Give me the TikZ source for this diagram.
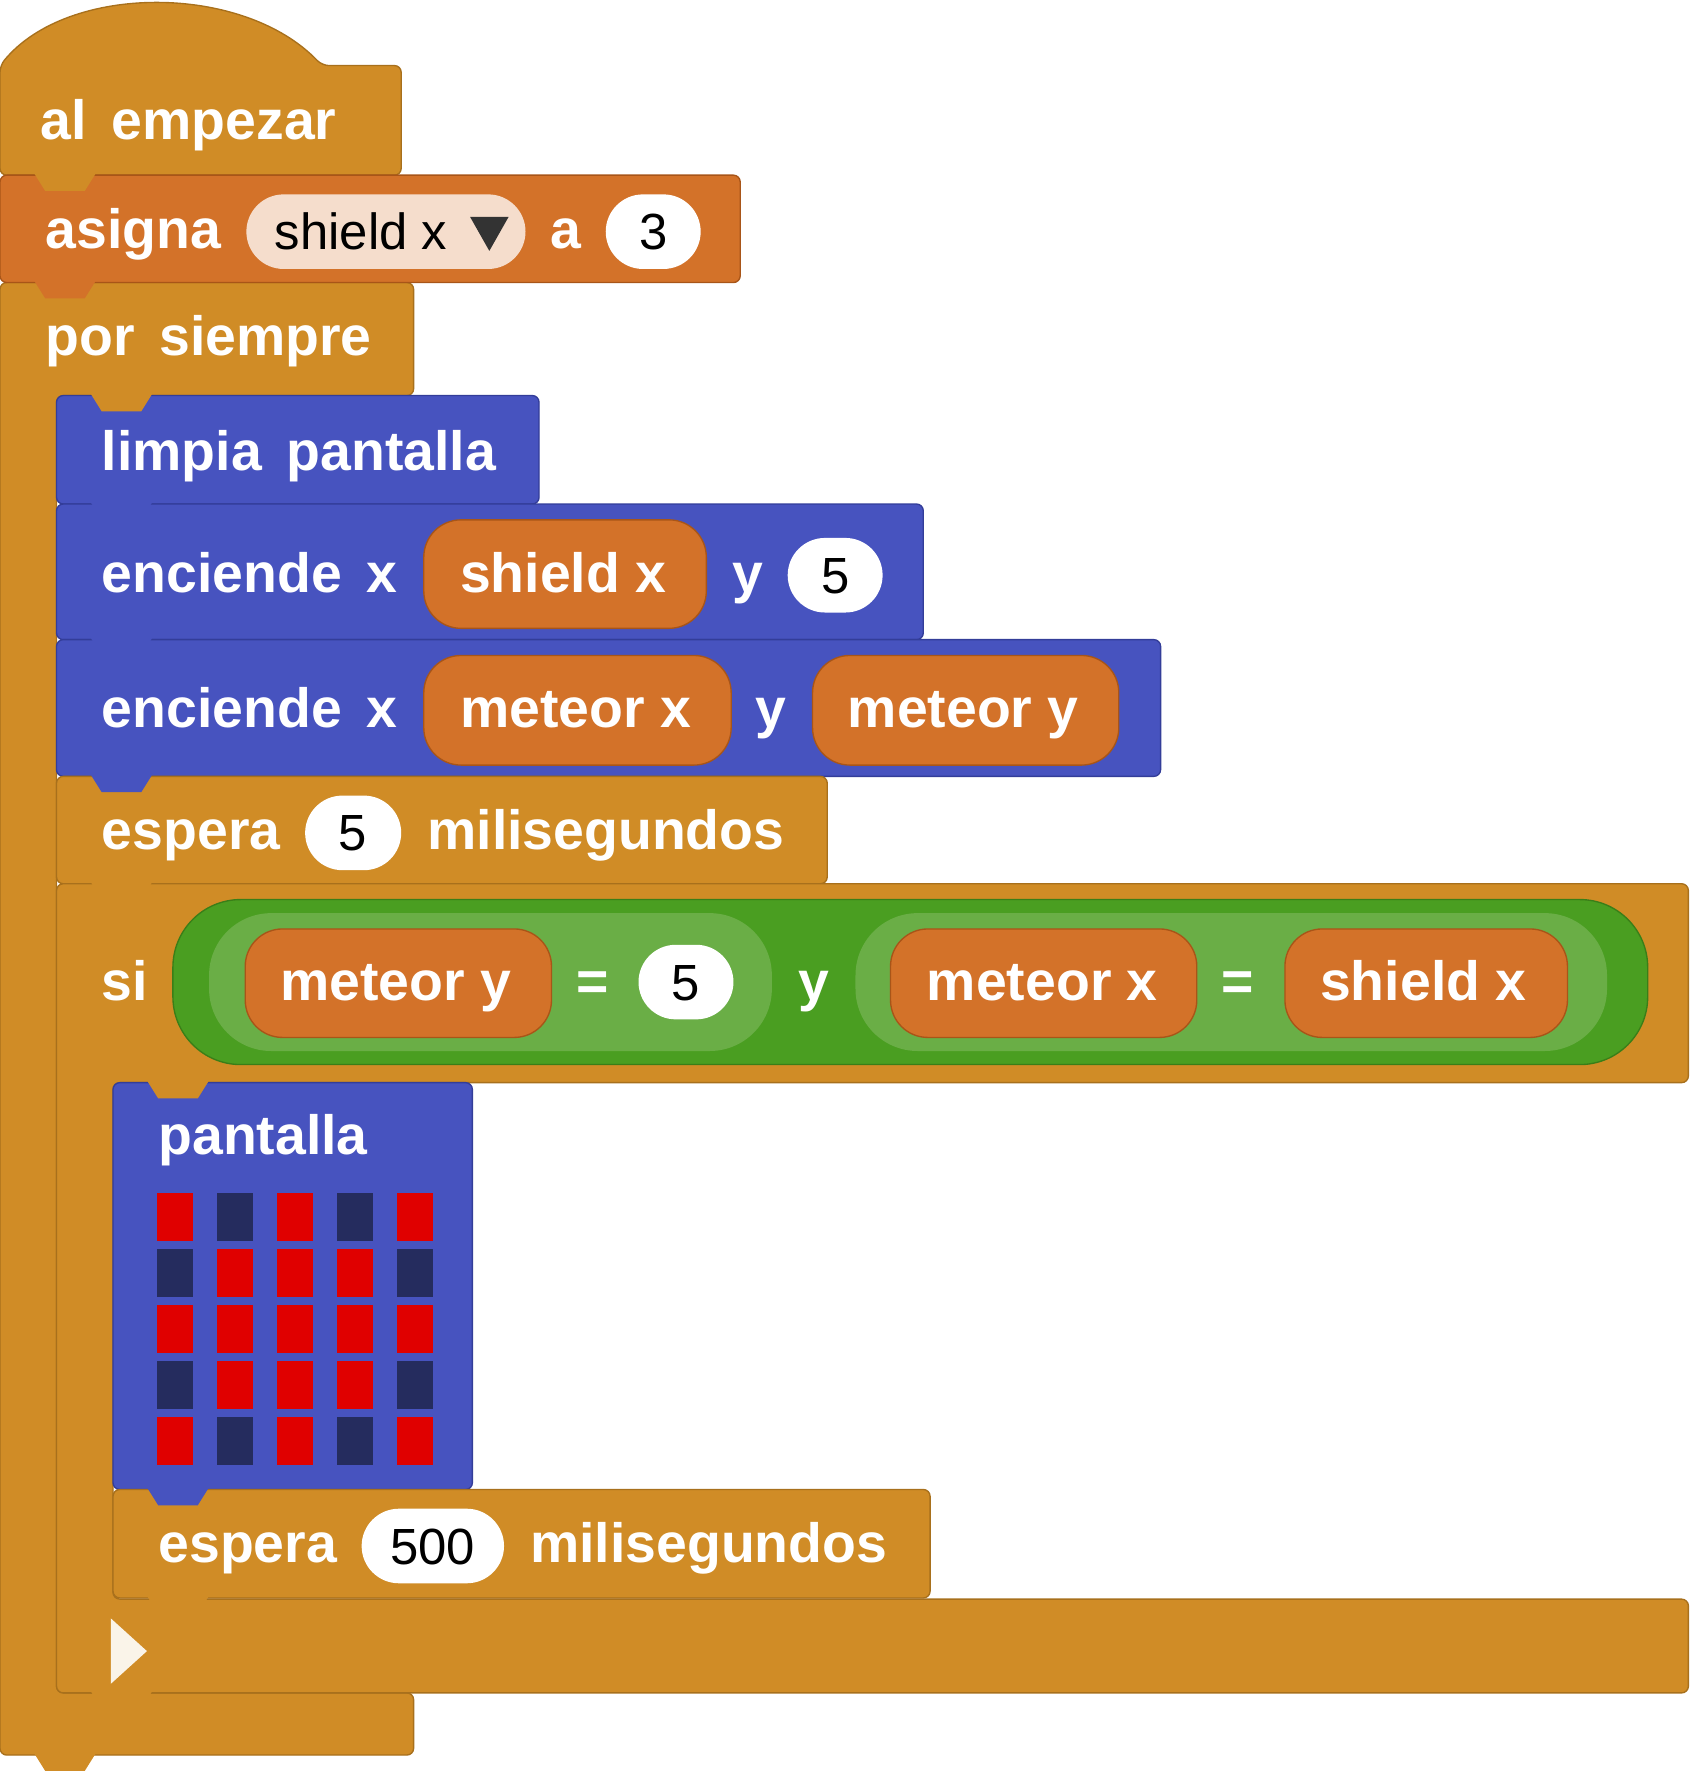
\documentclass[tikz,border=0pt]{standalone}
\usepackage{fontspec}
\setmainfont{Liberation Sans}
\begin{document}
\begin{tikzpicture}[x=1pt,y=-1pt,
  gold/.style={fill=goldc,draw=golddk,line width=1.2pt,rounded corners=6pt},
  asg/.style={fill=asgc,draw=asgdk,line width=1.2pt,rounded corners=6pt},
  blu/.style={fill=bluc,draw=bludk,line width=1.2pt,rounded corners=6pt},
  lbl/.style={anchor=base west,text=white,font=\fontsize{49}{52}\selectfont\bfseries,inner sep=0pt,yshift=-17pt},
  pill/.style={rounded corners=33pt,fill=pillc,draw=pilldk,line width=1.2pt},
  dtext/.style={anchor=base,text=black,font=\fontsize{45}{48}\selectfont,inner sep=0pt,yshift=-16pt},
  tabg/.style={fill=goldc},tabo/.style={fill=asgc},tabb/.style={fill=bluc}]
\definecolor{goldc}{HTML}{D08C26}\definecolor{golddk}{HTML}{A8701C}
\definecolor{asgc}{HTML}{D37229}\definecolor{asgdk}{HTML}{A85518}
\definecolor{bluc}{HTML}{4753BF}\definecolor{bludk}{HTML}{333D99}
\definecolor{pillc}{HTML}{D37229}\definecolor{pilldk}{HTML}{A85518}
\definecolor{lpill}{HTML}{F5DDCC}
\definecolor{grn}{HTML}{4A9E21}\definecolor{grndk}{HTML}{3A7E18}
\definecolor{lgrn}{HTML}{6AAE46}
\definecolor{ledr}{HTML}{E00000}\definecolor{ledd}{HTML}{252C5E}
\useasboundingbox (0,0) rectangle (1495,1568);
% por siempre C
\draw[gold] (0,250) -- (366,250) -- (366,350) -- (50,350) -- (50,1498) -- (366,1498) -- (366,1553) -- (0,1553) -- cycle;
% hat
\draw[gold] (0,155) -- (0,58) .. controls (60,-15) and (215,-15) .. (285,58) -- (355,58) -- (355,155) -- cycle;
\draw[asg] (0,155) rectangle (655,250);
\draw[blu] (50,350) rectangle (477,446);
\draw[blu] (50,446) rectangle (817,566);
\draw[blu] (50,566) rectangle (1027,687);
\draw[gold] (50,687) rectangle (732,782);
\draw[gold] (50,782) -- (1494,782) -- (1494,958) -- (100,958) -- (100,1415) -- (1494,1415) -- (1494,1498) -- (50,1498) -- cycle;
\draw[blu] (100,958) rectangle (418,1318);
\draw[gold] (100,1318) rectangle (823,1414);
% tabs
\foreach \x/\y/\s in {30/155/tabg,30/250/tabo,80/350/tabg,80/446/tabb,80/566/tabb,80/687/tabb,80/782/tabg,130/958/tabg,130/1318/tabb,130/1414/tabg,80/1498/tabg,30/1553/tabg}
  \fill[\s] (\x,\y-2) -- (\x+10,\y+14) -- (\x+45,\y+14) -- (\x+55,\y-2) -- cycle;
% texts
\node[lbl] (t1) at (36,106) {al\, empezar};
\node[lbl] (t2) at (40,203) {asigna};
\fill[lpill,rounded corners=33pt] (218,172) rectangle (465,238);
\node[dtext,anchor=base west] (sx) at (243,205) {shield x};
\fill[black!80] (416,192) -- (450,192) -- (433,222) -- cycle;
\node[lbl] (ta) at (487,203) {a};
\fill[white,rounded corners=33pt] (536,172) rectangle (620,238);
\node[dtext] (n3) at (578,205) {3};
\node[lbl] (t3) at (40,298) {por\, siempre};
\node[lbl] (t4) at (90,399) {limpia\, pantalla};
\node[lbl] (t5) at (90,507) {enciende\, x};
\draw[pill] (375,460) rectangle (625,556);
\node[lbl] (p1) at (407,507) {shield x};
\node[lbl] (y1) at (648,507) {y};
\fill[white,rounded corners=33pt] (697,476) rectangle (781,542);
\node[dtext] (n5) at (739,509) {5};
\node[lbl] (t6) at (90,627) {enciende\, x};
\draw[pill] (375,580) rectangle (647,677);
\node[lbl] (p2) at (407,627) {meteor x};
\node[lbl] (y2) at (668,627) {y};
\draw[pill] (719,580) rectangle (990,677);
\node[lbl] (p3) at (750,627) {meteor y};
\node[lbl] (t7) at (90,735) {espera};
\fill[white,rounded corners=33pt] (270,704) rectangle (355,770);
\node[dtext] (n6) at (312,737) {5};
\node[lbl] (t8) at (378,735) {milisegundos};
\node[lbl] (t9) at (90,868) {si};
\draw[fill=grn,draw=grndk,line width=1.2pt,rounded corners=60pt] (153,796) rectangle (1458,942);
\fill[lgrn,rounded corners=55pt] (185,808) rectangle (683,930);
\fill[lgrn,rounded corners=55pt] (757,808) rectangle (1422,930);
\draw[pill] (217,822) rectangle (488,918);
\node[lbl] (p4) at (248,868) {meteor y};
\node[lbl] (e1) at (510,868) {=};
\fill[white,rounded corners=33pt] (565,836) rectangle (649,902);
\node[dtext] (n7) at (607,869) {5};
\node[lbl] (y3) at (706,868) {y};
\draw[pill] (788,822) rectangle (1059,918);
\node[lbl] (p5) at (820,868) {meteor x};
\node[lbl] (e2) at (1081,868) {=};
\draw[pill] (1137,822) rectangle (1387,918);
\node[lbl] (p6) at (1168,868) {shield x};
\node[lbl] (t10) at (140,1005) {pantalla};
\foreach \r [count=\i from 0] in {{1,0,1,0,1},{0,1,1,1,0},{1,1,1,1,1},{0,1,1,1,0},{1,0,1,0,1}}
  \foreach \v [count=\j from 0] in \r {
    \ifnum\v=1 \fill[ledr] (139+53*\j,1056+49.5*\i) rectangle ++(32,42);
    \else \fill[ledd] (139+53*\j,1056+49.5*\i) rectangle ++(32,42); \fi }
\node[lbl] (t11) at (140,1366) {espera};
\fill[white,rounded corners=33pt] (320,1335) rectangle (446,1401);
\node[dtext] (n8) at (383,1368) {500};
\node[lbl] (t12) at (469,1366) {milisegundos};
\fill[white!90!goldc] (98,1432) -- (130,1461) -- (98,1490) -- cycle;
\end{tikzpicture}
\end{document}
